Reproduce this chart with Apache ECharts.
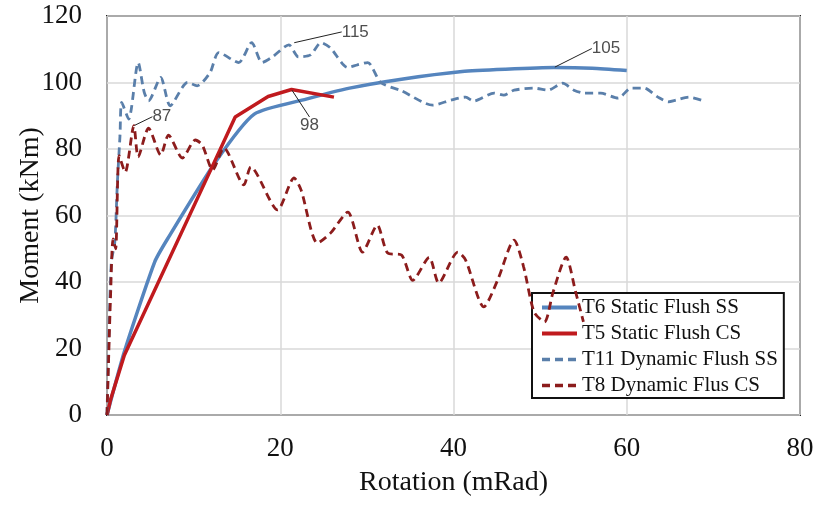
<!DOCTYPE html>
<html><head><meta charset="utf-8">
<script src="https://cdn.jsdelivr.net/npm/echarts@6/dist/echarts.min.js"></script>
<style>html,body{margin:0;padding:0;background:#fff}#c{width:818px;height:505px}</style>
</head><body><div id="c"></div>
<script>
// ---- data ----
const seriesNames = ['T6 Static Flush SS', 'T5 Static Flush CS', 'T11 Dynamic Flush SS', 'T8 Dynamic Flus CS'];
const xAxisName = 'Rotation (mRad)';
const yAxisName = 'Moment (kNm)';
const xRange = [0, 80, 20];
const yRange = [0, 120, 20];

const t6 = [[0,0],[2,19],[5.5,46],[7,53],[12.5,76],[17,90.5],[23,95],[28,98.3],[34,101],[41,103.3],[46,104],[51.6,104.5],[56,104.3],[60,103.6]];
const t5 = [[0,0],[0.4,4.5],[2,18],[12.2,75],[14.8,89.6],[18.6,95.8],[21.3,97.9],[26.2,95.6]];
const t11 = [[0,0],[0.2,22],[0.5,46],[0.9,52],[1.2,70],[1.5,84],[1.7,94],[2.5,89],[3.6,106],[4.3,97],[4.8,94.5],[6.2,101.5],[7.3,93],[9.3,100],[10.4,99],[11.9,103],[12.9,109],[15.2,106],[16.7,112],[17.9,106],[19.1,107.7],[21,111.3],[22.1,107.7],[23.5,108.3],[24.7,112],[25.8,110.4],[27.8,104.5],[28.9,105.3],[30.1,106],[31.6,100],[34,97.5],[37.6,93.2],[39.7,94.7],[41.4,95.6],[42.3,94.4],[44.7,96.8],[45.8,96.2],[47,97.7],[49.3,98.3],[50.9,97.7],[52.6,99.8],[53.9,97.7],[55.1,96.8],[57,96.8],[59,95.3],[60.5,98.3],[62,98.3],[63.6,95.6],[64.8,94.2],[65.7,94.7],[67.2,95.6],[68.6,94.7]];
const t8 = [[0,0],[0.2,18],[0.4,35],[0.7,53],[1.0,50],[1.4,78],[2.1,73],[3.1,87],[3.6,77.6],[4.8,86.3],[6.2,78.2],[7.1,84.2],[8.7,77.3],[10.2,82.7],[11,81.2],[12.2,73.7],[13.5,80.3],[15.8,69.2],[16.6,74.6],[19.7,61.7],[21.6,71.3],[22.4,67.7],[24.3,51.7],[25.8,54.7],[27.8,61],[29.5,49],[31.2,57.1],[32.4,48.7],[34,48.1],[35.3,40.5],[37.2,47.4],[38.3,39.7],[40.5,49],[41.4,46.6],[43.5,32.5],[45.1,40.6],[47,52.6],[48.1,44.5],[49.3,31],[50.5,28],[51.5,37],[53,47.5],[54.1,37],[55,28]];

const annotationPoints = [[3.1,87],[21.3,97.9],[21.5,111.9],[51.6,104.5]];
const annotationTexts = ['87','98','115','105'];

// ---- styles ----
const colors = ['#5585BE', '#C01A1E', '#5A7FAA', '#8C1C1C'];
const widths = [3.5, 3.5, 2.8, 2.8];
const annotationOffsets = [[28,-9],[18,36],[62,-11],[52,-19]];
const serif = 'Liberation Serif, Times New Roman, serif';

const chart = echarts.init(document.getElementById('c'));
const mkLine = (i, data, dashed, smooth) => ({
  name: seriesNames[i], type: 'line', data, symbol: 'none', showSymbol: false, smooth,
  color: colors[i],
  lineStyle: { color: colors[i], width: widths[i], type: dashed ? [8,5] : 'solid' },
  z: 2 + i
});

chart.setOption({
  animation: false,
  backgroundColor: '#fff',
  grid: { left: 107, right: 18, top: 16, bottom: 90, show: true, borderColor: '#222', borderWidth: 2,
          backgroundColor: 'transparent', containLabel: false, outerBoundsMode: 'none' },
  xAxis: {
    type: 'value', min: xRange[0], max: xRange[1], interval: xRange[2],
    name: xAxisName, nameLocation: 'middle', nameGap: 54,
    nameTextStyle: { fontFamily: serif, fontSize: 28, color: '#111' },
    axisLine: { show: false }, axisTick: { show: false },
    axisLabel: { fontFamily: serif, fontSize: 27, color: '#111', margin: 20 },
    splitLine: { show: true, lineStyle: { color: '#D9D9D9', width: 1.5 } }
  },
  yAxis: {
    type: 'value', min: yRange[0], max: yRange[1], interval: yRange[2],
    name: yAxisName, nameLocation: 'middle', nameGap: 62, nameMoveOverlap: false,
    nameTextStyle: { fontFamily: serif, fontSize: 28, color: '#111' },
    axisLine: { show: false }, axisTick: { show: false },
    axisLabel: { fontFamily: serif, fontSize: 27, color: '#111', margin: 25 },
    splitLine: { show: true, lineStyle: { color: '#D9D9D9', width: 1.5 } }
  },
  legend: {
    data: seriesNames.map((n, i) => ({ name: n, lineStyle: { width: widths[i] + 0.5 } })),
    orient: 'vertical', left: 532, top: 293,
    backgroundColor: '#fff', borderColor: '#111', borderWidth: 2,
    padding: [4, 6, 2, 8], itemGap: 5, itemWidth: 35, itemHeight: 14,
    itemStyle: { opacity: 0 },
    textStyle: { fontFamily: serif, fontSize: 21, color: '#111' }
  },
  series: [
    mkLine(0, t6, false, 0.2),
    mkLine(1, t5, false, false),
    mkLine(2, t11, true, 0.25),
    mkLine(3, t8, true, 0.25),
    {
      type: 'scatter', data: annotationPoints, symbolSize: 2,
      itemStyle: { color: 'rgba(0,0,0,0)' }, silent: true, z: 10,
      label: {
        show: true, position: 'inside',
        formatter: p => annotationTexts[p.dataIndex],
        fontFamily: 'Liberation Sans, Arial, sans-serif', fontSize: 17, color: '#222'
      },
      labelLine: { show: true, lineStyle: { color: '#222', width: 1 } },
      labelLayout: p => ({ dx: annotationOffsets[p.dataIndex][0], dy: annotationOffsets[p.dataIndex][1] })
    }
  ]
});
</script>
</body></html>
